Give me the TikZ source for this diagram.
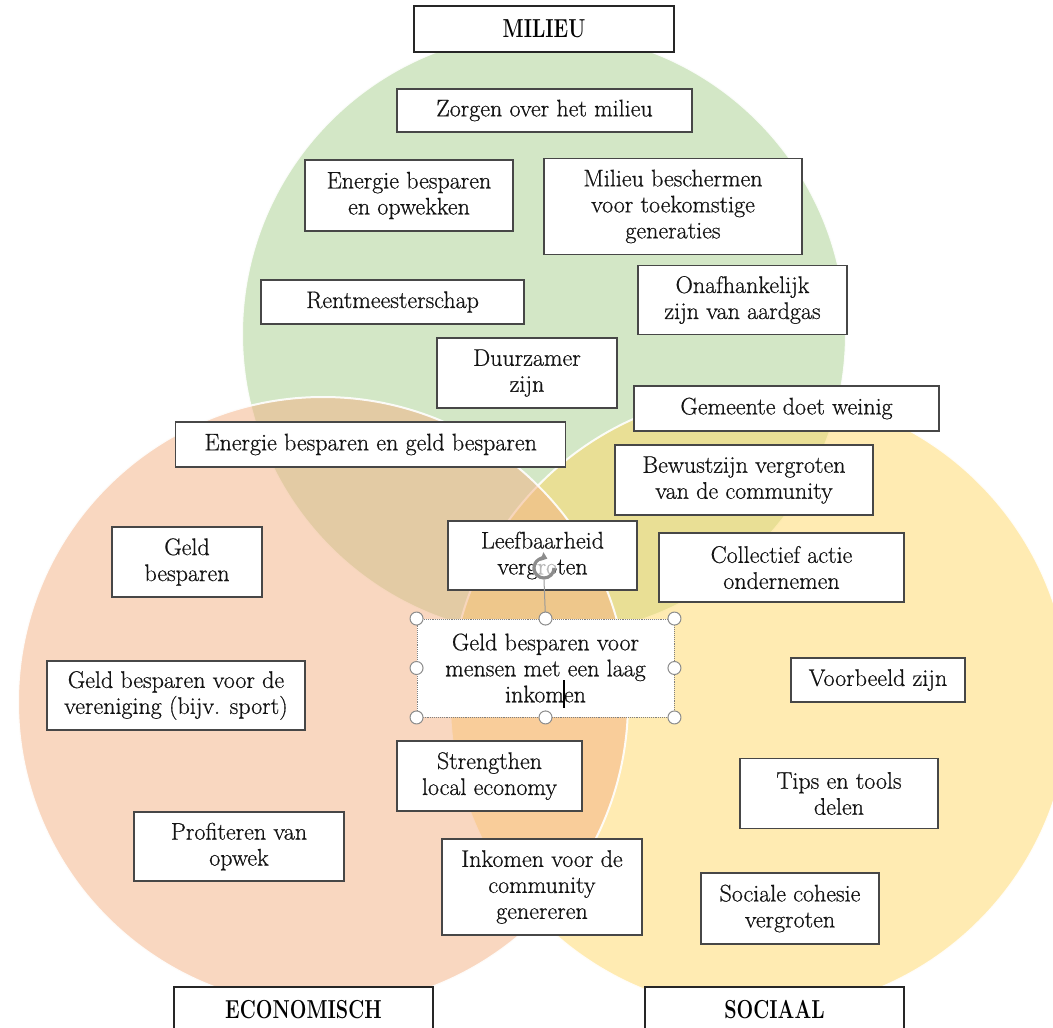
\documentclass[tikz,border=0pt]{standalone}
\usepackage{fontspec}
\usepackage{graphicx}
\newfontfamily\boxfont{Latin Modern Roman}[FakeBold=0.6]
\usetikzlibrary{arrows.meta,calc}
\definecolor{cgreen}{HTML}{A9D18E}
\definecolor{cpeach}{HTML}{F4B183}
\definecolor{cyellow}{HTML}{FFD966}
\newcommand\vennbox[6]{\node[bx, minimum width=#4pt, minimum height=#5pt] (#1) at (#2,#3) {#6};}
\newcommand\headtxt[1]{\scalebox{0.76}[1]{#1}}
\begin{document}
\begin{tikzpicture}[x=1pt,y=-1pt,
  bx/.style={draw=black!72, line width=1.2pt, fill=white, align=center, inner sep=0pt, text=black!92, font=\boxfont\fontsize{24}{26}\selectfont},
  hd/.style={draw=black!85, line width=1.8pt, fill=white, inner sep=0pt, text=black, font=\bfseries\fontsize{26}{28}\selectfont},
  venn/.style={fill opacity=0.5},
  handle/.style={draw=black!45, fill=white, line width=1pt}]
\useasboundingbox (0,0) rectangle (1053,1028);
\fill[white] (0,0) rectangle (1053,1028);
\clip (0,0) rectangle (1053,1028);
% Venn circles
\fill[cgreen, venn] (544,334) circle[radius=302pt];
\draw[white, line width=2pt, opacity=0.9] (544,334) circle[radius=302pt];
\fill[cyellow, venn] (760,702) circle[radius=310pt];
\draw[white, line width=2pt, opacity=0.9] (760,702) circle[radius=310pt];
\fill[cpeach, venn] (323,702) circle[radius=305pt];
\draw[white, line width=2pt, opacity=0.9] (323,702) circle[radius=305pt];
% headings
\node[hd, minimum width=260pt, minimum height=46pt] (milieu) at (544,29) {\headtxt{MILIEU}};
\node[hd, minimum width=259pt, minimum height=46pt] (econ) at (303.5,1010) {\headtxt{ECONOMISCH}};
\node[hd, minimum width=259pt, minimum height=46pt] (soc) at (774.5,1010) {\headtxt{SOCIAAL}};
% boxes
\vennbox{zorgen}{544.5}{110.5}{295}{43}{Zorgen over het milieu}
\vennbox{energie}{409}{195.5}{208}{71}{Energie besparen\\en opwekken}
\vennbox{beschermen}{673}{206.5}{258}{96}{Milieu beschermen\\voor toekomstige\\generaties}
\vennbox{rentmeester}{392.5}{302}{263}{44}{Rentmeesterschap}
\vennbox{onafh}{742.5}{300}{209}{69}{Onafhankelijk\\zijn van aardgas}
\vennbox{duurzamer}{527}{373}{180}{70}{Duurzamer\\zijn}
\vennbox{gemeente}{786.5}{408.5}{305}{45}{Gemeente doet weinig}
\vennbox{engeld}{370.7}{444.5}{390}{45}{Energie besparen en geld besparen}
\vennbox{bewust}{744}{480}{258}{70}{Bewustzijn vergroten\\van de community}
\vennbox{geld}{187}{562}{150}{70}{Geld\\besparen}
\vennbox{leefbaar}{542.5}{555.5}{189}{69}{Leefbaarheid\\vergroten}
\vennbox{collectief}{781.5}{567.5}{245}{69}{Collectief actie\\ondernemen}
\node[bx, draw=black!50, line width=0.9pt, densely dotted, minimum width=257pt, minimum height=98pt] (sel) at (545.5,668) {Geld besparen voor\\mensen met een laag\\inkomen};
\vennbox{vereniging}{176}{695.5}{258}{69}{Geld besparen voor de\\vereniging (bijv. sport)}
\vennbox{voorbeeld}{878}{680}{174}{44}{Voorbeeld zijn}
\vennbox{strengthen}{489.5}{776}{185}{70}{Strengthen\\local economy}
\vennbox{tips}{839}{793.5}{198}{70}{Tips en tools\\delen}
\vennbox{profiteren}{239}{846.5}{210}{69}{Profiteren van\\opwek}
\vennbox{inkomen}{542}{887}{200}{96}{Inkomen voor de\\community\\genereren}
\vennbox{cohesie}{790}{908.5}{178}{71}{Sociale cohesie\\vergroten}
% selection handles
\coordinate (rot) at (544,568);
\draw[black!40, line width=1pt] (sel.north) -- ($(rot)+(0,12)$);
\fill[white, opacity=0.7] (rot) circle[radius=12pt];
\draw[black!45, line width=3.2pt, -{Triangle[length=6pt,width=9pt]}] (rot) ++(10pt,0) arc[start angle=0, end angle=-290, radius=10pt];
\foreach \a in {north west,north,north east,east,south east,south,south west,west}
  \draw[handle] (sel.\a) circle[radius=6.5pt];
% text cursor
\coordinate (cur) at (564,680);
\draw[black, line width=1.2pt] (cur) -- ++(0,28);
\end{tikzpicture}
\end{document}
